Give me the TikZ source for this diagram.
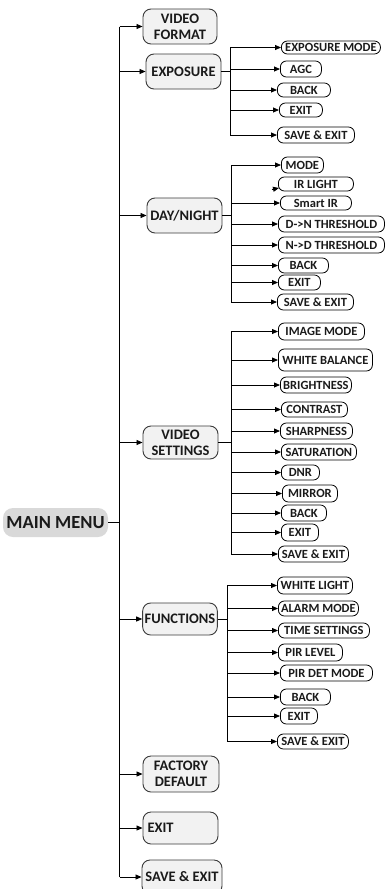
\documentclass[tikz,border=0pt]{standalone}
\usepackage{fontspec}
\setmainfont{Carlito}
\usetikzlibrary{arrows.meta}
\definecolor{txt}{HTML}{1A1A1A}
\definecolor{boxfill}{HTML}{F2F2F2}
\definecolor{boxline}{HTML}{3A3A3A}
\definecolor{mmfill}{HTML}{D9D9D9}
\tikzset{
  mainbox/.style={draw=boxline, fill=boxfill, line width=0.9pt, rounded corners=8pt,
    align=center, text=txt, font=\fontsize{14.5}{16}\selectfont\bfseries, inner sep=2pt},
  mmbox/.style={fill=mmfill, rounded corners=10pt, text=txt,
    font=\fontsize{18.5}{20}\selectfont\bfseries, inner sep=1pt},
  pill/.style={draw=black, line width=0.8pt, rounded corners=6pt, anchor=west,
    inner xsep=1.5pt, inner ysep=0pt, text=txt, font=\fontsize{12.5}{13}\selectfont\bfseries},
  conn/.style={draw=black, line width=0.8pt},
  arr/.style={conn, -{Triangle[length=6pt,width=5pt]}},
}
\begin{document}
\begin{tikzpicture}[x=1pt,y=-1pt]
\useasboundingbox (0,0) rectangle (385,889);

% main menu
\node[mmbox, minimum width=105pt, minimum height=29pt] (mm) at (55.5,522.5) {MAIN MENU};

% main boxes
\node[mainbox, minimum width=74pt, minimum height=35pt] (vf) at (180,26.5) {VIDEO\\FORMAT};
\node[mainbox, minimum width=75pt, minimum height=35pt] (exp) at (183.5,71.5) {EXPOSURE};
\node[mainbox, minimum width=75pt, minimum height=35pt] (dn) at (184.5,215.5) {DAY/NIGHT};
\node[mainbox, minimum width=75pt, minimum height=33pt] (vs) at (180.5,442.5) {VIDEO\\SETTINGS};
\node[mainbox, minimum width=74pt, minimum height=32pt] (fn) at (180,619) {FUNCTIONS};
\node[mainbox, minimum width=76pt, minimum height=36pt] (fd) at (181,774) {FACTORY\\DEFAULT};
\node[mainbox, minimum width=75pt, minimum height=32pt, text width=66pt, align=left] (mex) at (180.5,828) {EXIT};
\node[mainbox, minimum width=80pt, minimum height=34pt] (mse) at (182,877) {SAVE \& EXIT};

% trunk
\coordinate (trunk) at (119.5,0);
\draw[conn] (mm.east) -- (trunk |- mm.east);
\draw[conn] (trunk |- vf.west) -- (trunk |- mse.west);
\foreach \n in {vf,exp,dn,vs,fn,fd,mex,mse}
  \draw[arr] (trunk |- \n.west) -- (\n.west);

% EXPOSURE submenu
\node[pill, minimum width=99pt, minimum height=13pt] (e1) at (281,47.5) {EXPOSURE MODE};
\node[pill, minimum width=41pt, minimum height=16pt] (e2) at (280,69) {AGC};
\node[pill, minimum width=53pt, minimum height=14pt] (e3) at (277,90) {BACK};
\node[pill, minimum width=43pt, minimum height=14pt] (e4) at (279,110) {EXIT};
\node[pill, minimum width=77pt, minimum height=16pt] (e5) at (277,135) {SAVE \& EXIT};
\coordinate (ebr) at (230,0);
\draw[conn] (exp.east) -- (ebr |- exp.east);
\draw[conn] (ebr |- e1.west) -- (ebr |- e5.west);
\foreach \n in {e1,e2,e3,e4,e5}
  \draw[arr] (ebr |- \n.west) -- (\n.west);

% DAY/NIGHT submenu
\node[pill, minimum width=42pt, minimum height=16pt] (d1) at (281,165) {MODE};
\node[pill, minimum width=75pt, minimum height=14pt] (d2) at (278,184) {IR LIGHT};
\node[pill, minimum width=71pt, minimum height=14pt] (d3) at (280,203) {Smart IR};
\node[pill, minimum width=106pt, minimum height=16pt] (d4) at (278,224) {D-{}>N THRESHOLD};
\node[pill, minimum width=106pt, minimum height=16pt] (d5) at (278,245) {N-{}>D THRESHOLD};
\node[pill, minimum width=50pt, minimum height=15pt] (d6) at (278,265.5) {BACK};
\node[pill, minimum width=42pt, minimum height=15pt] (d7) at (278,282.5) {EXIT};
\node[pill, minimum width=76pt, minimum height=16pt] (d8) at (277,302) {SAVE \& EXIT};
\coordinate (dbr) at (231,0);
\draw[conn] (dn.east) -- (dbr |- dn.east);
\draw[conn] (dbr |- d1.west) -- (dbr |- d8.west);
\foreach \n in {d1,d3,d4,d5,d6,d7,d8}
  \draw[arr] (dbr |- \n.west) -- (\n.west);
\coordinate (irtail) at (272,189.5);
\coordinate (irtip) at (279,188);
\draw[arr] (irtail) -- (irtip);

% VIDEO SETTINGS submenu
\node[pill, minimum width=86pt, minimum height=17pt] (v1) at (278,331.5) {IMAGE MODE};
\node[pill, minimum width=94pt, minimum height=22pt] (v2) at (278,360) {WHITE BALANCE};
\node[pill, minimum width=71pt, minimum height=16pt] (v3) at (280,385) {BRIGHTNESS};
\node[pill, minimum width=66pt, minimum height=15pt] (v4) at (281,409.5) {CONTRAST};
\node[pill, minimum width=72pt, minimum height=16pt] (v5) at (280,431) {SHARPNESS};
\node[pill, minimum width=75pt, minimum height=16pt] (v6) at (281,452) {SATURATION};
\node[pill, minimum width=38pt, minimum height=15pt] (v7) at (281,472.5) {DNR};
\node[pill, minimum width=55pt, minimum height=17pt] (v8) at (282,493.5) {MIRROR};
\node[pill, minimum width=45pt, minimum height=16pt] (v9) at (281,513) {BACK};
\node[pill, minimum width=37pt, minimum height=17pt] (v10) at (281,532.5) {EXIT};
\node[pill, minimum width=70pt, minimum height=16pt] (v11) at (278,554) {SAVE \& EXIT};
\coordinate (vbr) at (231,0);
\draw[conn] (vs.east) -- (vbr |- vs.east);
\draw[conn] (vbr |- v1.west) -- (vbr |- v11.west);
\foreach \n in {v1,v2,v3,v4,v5,v6,v7,v8,v9,v10,v11}
  \draw[arr] (vbr |- \n.west) -- (\n.west);

% FUNCTIONS submenu
\node[pill, minimum width=75pt, minimum height=17pt] (f1) at (277,585.5) {WHITE LIGHT};
\node[pill, minimum width=80pt, minimum height=15pt] (f2) at (278,608.5) {ALARM MODE};
\node[pill, minimum width=91pt, minimum height=15pt] (f3) at (278,630.5) {TIME SETTINGS};
\node[pill, minimum width=64pt, minimum height=17pt] (f4) at (278,652.5) {PIR LEVEL};
\node[pill, minimum width=92pt, minimum height=16pt] (f5) at (280,673) {PIR DET MODE};
\node[pill, minimum width=50pt, minimum height=16pt] (f6) at (280,697) {BACK};
\node[pill, minimum width=37pt, minimum height=16pt] (f7) at (280,716) {EXIT};
\node[pill, minimum width=71pt, minimum height=15pt] (f8) at (277,741.5) {SAVE \& EXIT};
\coordinate (fbr) at (227,0);
\draw[conn] (fn.east) -- (fbr |- fn.east);
\draw[conn] (fbr |- f1.west) -- (fbr |- f8.west);
\foreach \n in {f1,f2,f3,f4,f5,f6,f7,f8}
  \draw[arr] (fbr |- \n.west) -- (\n.west);
\end{tikzpicture}
\end{document}
